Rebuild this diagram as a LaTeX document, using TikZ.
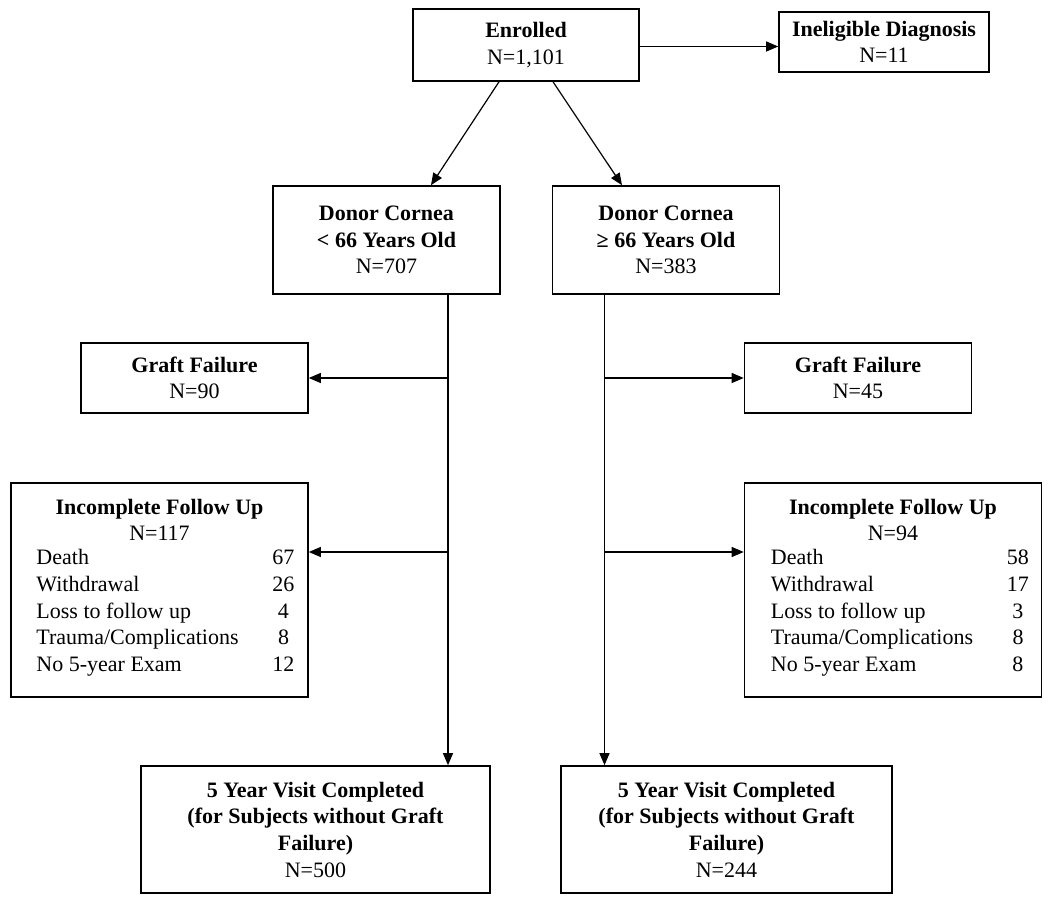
\documentclass[tikz,border=0pt]{standalone}
\usepackage{fontspec}
\setmainfont{Liberation Serif}
\usetikzlibrary{arrows.meta,calc}
\newcommand\myfs{\fontsize{16.5}{20}\selectfont}
\newcommand\rowitem[2]{\makebox[174pt][l]{#1}\makebox[22.5pt]{#2}}
\begin{document}
\begin{tikzpicture}[x=0.75pt,y=-0.75pt,
  box/.style={draw, line width=1.2pt, inner sep=0pt, align=center, font=\myfs},
  txt/.style={inner sep=0pt, font=\myfs},
  arr/.style={line width=0.9pt, -{Triangle[length=9pt,width=7.5pt]}}]
\useasboundingbox (0,0) rectangle (1050,912);
% boxes
\node[box, minimum width=169.5pt, minimum height=54pt] (enr) at (526,45) {\textbf{Enrolled}\\N=1,101};
\node[box, minimum width=157.5pt, minimum height=45pt] (inel) at (884,42) {\textbf{Ineligible Diagnosis}\\N=11};
\node[box, minimum width=170.25pt, minimum height=81pt] (donL) at (386.5,240) {\textbf{Donor Cornea}\\\textbf{< 66 Years Old}\\N=707};
\node[box, minimum width=170.25pt, minimum height=81pt] (donR) at (666,240) {\textbf{Donor Cornea}\\\textbf{≥ 66 Years Old}\\N=383};
\node[box, minimum width=170.25pt, minimum height=52.5pt] (gfL) at (194.5,378) {\textbf{Graft Failure}\\N=90};
\node[box, minimum width=170.25pt, minimum height=52.5pt] (gfR) at (858,378) {\textbf{Graft Failure}\\N=45};
\node[box, minimum width=222.75pt, minimum height=160.5pt] (incL) at (159.5,590) {};
\node[box, minimum width=222.75pt, minimum height=160.5pt] (incR) at (893,590) {};
\node[box, minimum width=261.75pt, minimum height=95.25pt] (fyL) at (315.5,829.5) {\textbf{5 Year Visit Completed}\\\textbf{(for Subjects without Graft}\\\textbf{Failure)}\\N=500};
\node[box, minimum width=248.25pt, minimum height=95.25pt] (fyR) at (726.5,829.5) {\textbf{5 Year Visit Completed}\\\textbf{(for Subjects without Graft}\\\textbf{Failure)}\\N=244};
% incomplete follow up contents
\node[txt, align=center] (incLt) at ($(incL.center)+(0,-70)$) {\textbf{Incomplete Follow Up}\\N=117};
\node[txt, align=left, anchor=west] (incLr) at ($(incL.west)+(26,23)$) {\rowitem{Death}{67}\\\rowitem{Withdrawal}{26}\\\rowitem{Loss to follow up}{4}\\\rowitem{Trauma/Complications}{8}\\\rowitem{No 5-year Exam}{12}};
\node[txt, align=center] (incRt) at ($(incR.center)+(0,-70)$) {\textbf{Incomplete Follow Up}\\N=94};
\node[txt, align=left, anchor=west] (incRr) at ($(incR.west)+(27,23)$) {\rowitem{Death}{58}\\\rowitem{Withdrawal}{17}\\\rowitem{Loss to follow up}{3}\\\rowitem{Trauma/Complications}{8}\\\rowitem{No 5-year Exam}{8}};
% connectors
\draw[arr] ($(enr.east)+(0,1.5)$) -- ($(enr.east -| inel.west)+(0,1.5)$);
\draw[arr] ($(enr.south)+(-27,0)$) -- ($(donL.north)+(44.5,0)$);
\draw[arr] ($(enr.south)+(27,0)$) -- ($(donR.north)+(-44,0)$);
\coordinate (tL) at ($(donL.south)+(61.5,0)$);
\coordinate (tR) at ($(donR.south)+(-61.5,0)$);
\draw[arr] (tL) -- (tL |- fyL.north);
\draw[arr] (tR) -- (tR |- fyR.north);
\draw[arr] (tL |- gfL.east) -- (gfL.east);
\draw[arr] (tR |- gfR.west) -- (gfR.west);
\coordinate (iL) at ($(incL.east)+(0,-38)$);
\coordinate (iR) at ($(incR.west)+(0,-38)$);
\draw[arr] (tL |- iL) -- (iL);
\draw[arr] (tR |- iR) -- (iR);
\end{tikzpicture}
\end{document}
